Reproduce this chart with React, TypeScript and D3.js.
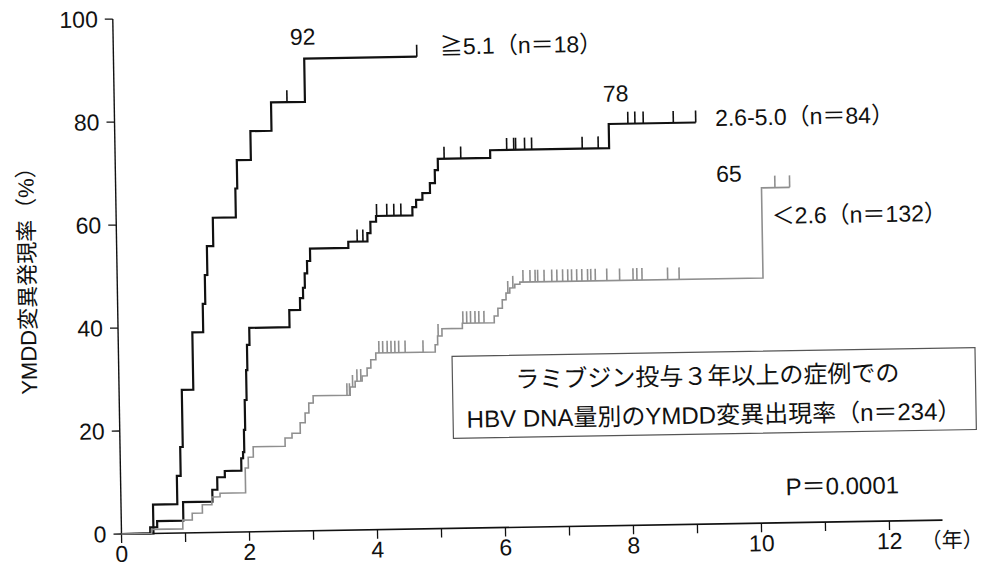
import * as d3 from 'd3';

// Kaplan–Meier style YMDD emergence curves by HBV DNA level (years, %)
const HIGH_T = [0, 0.5, 0.88, 0.94, 0.98, 1.16, 1.33, 1.37, 1.41, 1.51, 1.87, 1.9, 2.12, 2.45, 2.98];
const HIGH_R = [0, 5.6, 11.1, 16.7, 27.8, 38.9, 44.4, 50, 55.6, 61.1, 66.7, 72.2, 77.8, 83.3, 91.7];
const HIGH_END = 4.74;
const HIGH_CENS = [2.7, 4.74];

const MID_T = [0, 0.45, 0.56, 0.97, 1.43, 1.51, 1.63, 1.89, 1.92, 1.94, 1.96, 1.99, 2.01, 2.05, 2.68, 2.85, 2.9, 2.93, 2.97, 3.02, 3.62, 3.92, 3.97, 4.06, 4.63, 4.69, 4.79, 4.91, 4.99, 5.04, 5.86, 7.72];
const MID_R = [0, 1.2, 2.4, 6.0, 8.3, 10.7, 11.9, 14.3, 15.5, 19.8, 25.6, 31.4, 36.3, 39.6, 42.9, 45.2, 47.2, 50.0, 52.4, 54.8, 56.0, 57.6, 59.8, 60.9, 62.5, 63.9, 65.2, 67.1, 69.6, 71.8, 73.3, 78.0];
const MID_END = 9.08;
const MID_CENS = [3.76, 3.85, 4.07, 4.23, 4.34, 4.45, 5.14, 5.4, 6.12, 6.23, 6.26, 6.4, 6.51, 7.3, 7.55, 8.02, 8.13, 8.26, 8.73, 9.08];

const LOW_T = [0, 0.47, 0.96, 1.11, 1.27, 1.42, 1.55, 1.95, 2.0, 2.08, 2.58, 2.69, 2.82, 2.9, 2.96, 3.03, 3.61, 3.69, 3.8, 3.88, 3.94, 4.02, 4.95, 4.99, 5.06, 5.38, 5.88, 5.94, 6.01, 6.07, 6.13, 6.21, 6.29, 10.09];
const LOW_R = [0, 0.8, 2.5, 3.8, 5.4, 6.9, 7.6, 12.4, 14.5, 16.5, 18.1, 19.0, 21.0, 22.9, 24.8, 26.2, 27.8, 28.9, 29.9, 31.4, 33.0, 34.3, 35.7, 37.4, 38.8, 39.8, 41.1, 42.6, 44.2, 45.5, 46.5, 47.2, 47.6, 65.1];
const LOW_END = 10.53;
const LOW_CENS = [3.56, 3.6, 3.65, 3.72, 3.78, 4.07, 4.13, 4.2, 4.26, 4.32, 4.38, 4.48, 4.76, 5.0, 5.39, 5.45, 5.51, 5.58, 5.64, 5.72, 6.1, 6.18, 6.34, 6.45, 6.53, 6.57, 6.67, 6.79, 6.87, 6.96, 7.04, 7.1, 7.18, 7.26, 7.35, 7.4, 7.47, 7.65, 7.85, 8.06, 8.12, 8.2, 8.6, 8.78, 10.3, 10.53];

const X_TICKS = [0, 1, 2, 3, 4, 5, 6, 7, 8, 9, 10, 11, 12];
const X_LABELS = [0, 2, 4, 6, 8, 10, 12];
const Y_TICKS = [0, 20, 40, 60, 80, 100];

const FONT = "'Liberation Sans', Arial, 'Noto Sans CJK JP', sans-serif";

type Pt = [number, number];

function stepAt(times: number[], rates: number[], t: number) {
  let v = rates[0];
  times.forEach((tt, i) => { if (tt <= t) v = rates[i]; });
  return v;
}

export default function App() {
  const W = 985, H = 578;
  // original scan is tilted about 1 degree; draw level and rotate the group
  const x = d3.scaleLinear().domain([0, 12]).range([121.5, 121.5 + 64 * 12]);
  const y = d3.scaleLinear().domain([0, 100]).range([534, 19]);
  const line = d3.line<Pt>().x((d) => x(d[0])).y((d) => y(d[1])).curve(d3.curveStepAfter);

  const curves = [
    { t: HIGH_T, r: HIGH_R, end: HIGH_END, cens: HIGH_CENS, color: '#111', width: 2.2 },
    { t: MID_T, r: MID_R, end: MID_END, cens: MID_CENS, color: '#111', width: 2.2 },
    { t: LOW_T, r: LOW_R, end: LOW_END, cens: LOW_CENS, color: '#8f8f8f', width: 1.6 },
  ];

  return (
    <svg width={W} height={H} style={{ position: 'absolute', left: 0, top: 0, background: '#fff' }} fontFamily={FONT}>
      <rect width={W} height={H} fill="#fff" />
      <g transform="rotate(-0.97 121.5 534)">
        {/* axes */}
        <line x1={x(0)} x2={x(12.83)} y1={y(0)} y2={y(0)} stroke="#111" strokeWidth={1.6} />
        <line x1={x(0)} x2={x(0)} y1={y(0)} y2={y(100)} stroke="#111" strokeWidth={1.4} />
        {X_TICKS.map((v) => (
          <line key={'xt' + v} x1={x(v)} x2={x(v)} y1={y(0)} y2={y(0) + 9} stroke="#111" strokeWidth={1.3} />
        ))}
        {X_LABELS.map((v) => (
          <text key={'xl' + v} x={x(v)} y={y(0) + 20} fontSize={23} textAnchor="middle" dominantBaseline="central" fill="#111">{v}</text>
        ))}
        <text x={952} y={554} fontSize={21} textAnchor="middle" dominantBaseline="central" fill="#111">（年）</text>
        {Y_TICKS.map((v) => (
          <g key={'yt' + v}>
            <line x1={x(0) - 8} x2={x(0)} y1={y(v)} y2={y(v)} stroke="#111" strokeWidth={1.3} />
            <text x={x(0) - 15} y={y(v)} fontSize={23} textAnchor="end" dominantBaseline="central" fill="#111">{v}</text>
          </g>
        ))}
        <text transform="translate(32,274) rotate(-90)" fontSize={22} textAnchor="middle" dominantBaseline="central" fill="#111">YMDD変異発現率（%）</text>

        {/* curves */}
        {curves.map((c, i) => {
          const pts: Pt[] = c.t.map((t, j) => [t, c.r[j]] as Pt);
          pts.push([c.end, c.r[c.r.length - 1]]);
          return (
            <g key={'c' + i}>
              <path d={line(pts) || ''} fill="none" stroke={c.color} strokeWidth={c.width} />
              {c.cens.map((t, j) => {
                const v = stepAt(c.t, c.r, t);
                return <line key={j} x1={x(t)} x2={x(t)} y1={y(v)} y2={y(v) - 12} stroke={c.color} strokeWidth={1.6} />;
              })}
            </g>
          );
        })}

        {/* curve labels */}
        <text x={311} y={40} fontSize={23} textAnchor="middle" dominantBaseline="central" fill="#111">92</text>
        <text x={448} y={52} fontSize={23} dominantBaseline="central" fill="#111">≧5.1（n＝18）</text>
        <text x={623} y={102} fontSize={23} textAnchor="middle" dominantBaseline="central" fill="#111">78</text>
        <text x={722} y={128} fontSize={23} dominantBaseline="central" fill="#111">2.6-5.0（n＝84）</text>
        <text x={735} y={184} fontSize={23} textAnchor="middle" dominantBaseline="central" fill="#111">65</text>
        <text x={777} y={227} fontSize={23} dominantBaseline="central" fill="#111">＜2.6（n＝132）</text>

        {/* annotation box */}
        <rect x={455} y={362} width={523} height={82} fill="none" stroke="#555" strokeWidth={1.2} />
        <text x={710} y={386} fontSize={24} textAnchor="middle" dominantBaseline="central" fill="#111">ラミブジン投与３年以上の症例での</text>
        <text x={716} y={425} fontSize={24} textAnchor="middle" dominantBaseline="central" fill="#111">HBV DNA量別のYMDD変異出現率（n＝234）</text>
        <text x={843} y={498} fontSize={24} textAnchor="middle" dominantBaseline="central" fill="#111">P＝0.0001</text>
      </g>
    </svg>
  );
}
